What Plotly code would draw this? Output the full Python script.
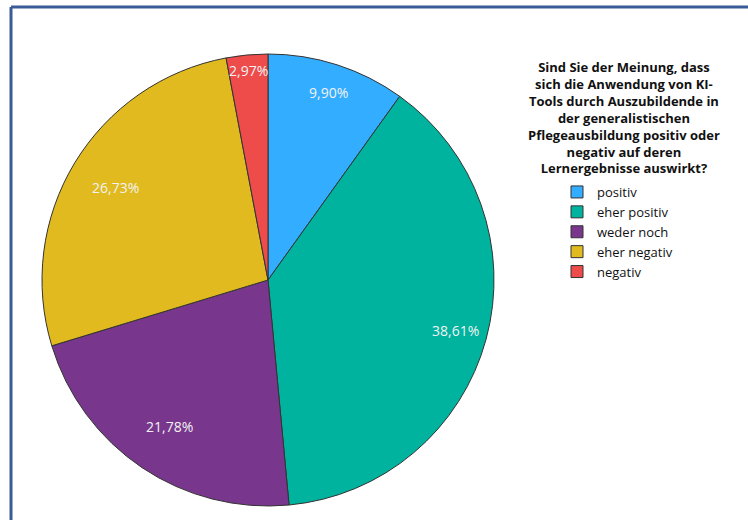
import math
import plotly.graph_objects as go

categories = ["positiv", "eher positiv", "weder noch", "eher negativ", "negativ"]
percentages = [9.90, 38.61, 21.78, 26.73, 2.97]
colors = ["#33ADFF", "#00B39E", "#78368C", "#E0BA1F", "#EE4B4B"]
label_radius = [0.87, 0.86, 0.78, 0.79, 0.93]  # style: radial label placement
title_text = ("Sind Sie der Meinung, dass<br>sich die Anwendung von KI-<br>"
              "Tools durch Auszubildende in<br>der generalistischen<br>"
              "Pflegeausbildung positiv oder<br>negativ auf deren<br>"
              "Lernergebnisse auswirkt?")

W, H = 748, 520
CX, CY, R = 268, 280, 226  # pie centre and radius in px

fig = go.Figure(go.Pie(
    labels=categories,
    values=percentages,
    textinfo="none",
    marker=dict(colors=colors, line=dict(color="#333333", width=1)),
    sort=False,
    direction="clockwise",
    rotation=0,
    domain=dict(x=[(CX - R) / W, (CX + R) / W], y=[1 - (CY + R) / H, 1 - (CY - R) / H]),
))

# percentage labels at slice mid-angles computed from the data
total = sum(percentages)
cum = 0.0
for v, rf in zip(percentages, label_radius):
    mid = (cum + v / 2) / total * 2 * math.pi
    cum += v
    px = CX + rf * R * math.sin(mid)
    py = CY - rf * R * math.cos(mid)
    fig.add_annotation(
        text=f"{v:.2f}%".replace(".", ","),
        x=px / W, y=1 - py / H, xref="paper", yref="paper",
        xanchor="center", yanchor="middle", showarrow=False,
        font=dict(family="Open Sans", size=14, color="#F2F2F2"),
    )

fig.add_annotation(
    text="<b>" + title_text + "</b>",
    x=624 / W, y=1 - 56 / H, xref="paper", yref="paper",
    xanchor="center", yanchor="top", align="center", showarrow=False,
    font=dict(family="Open Sans", size=13, color="#111111"),
)

# frame lines
fig.add_shape(type="line", xref="paper", yref="paper",
              x0=11 / W, x1=1.01, y0=1 - 7 / H, y1=1 - 7 / H,
              line=dict(color="#3B5B98", width=3))
fig.add_shape(type="line", xref="paper", yref="paper",
              x0=11 / W, x1=11 / W, y0=1 - 7 / H, y1=-0.01,
              line=dict(color="#3B5B98", width=3))

fig.update_layout(
    width=W, height=H,
    margin=dict(l=0, r=0, t=0, b=0),
    paper_bgcolor="white", plot_bgcolor="white",
    showlegend=True,
    legend=dict(x=557 / W, y=1 - 177 / H, xanchor="left", yanchor="top",
                font=dict(family="Open Sans", size=13, color="#111111"),
                tracegroupgap=0, itemwidth=30,
                bgcolor="rgba(0,0,0,0)"),
    font=dict(family="Open Sans"),
)

fig.write_html("out.html", config={"displayModeBar": False},
               post_script="document.body.style.margin='0';")
